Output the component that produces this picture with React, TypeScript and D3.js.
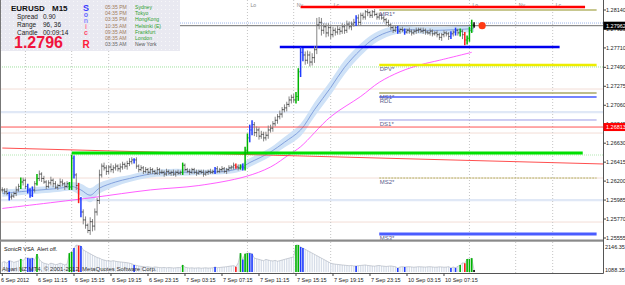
import React from "react";
import * as d3 from "d3";

const W = 625;
const H = 285;
const BASE = 1.25; // bar values below are pips above 1.2500

// EURUSD M15 closes, one per bar (6 Sep 07:30 .. 10 Sep 10:30)
const closes = [
  110, 108, 106, 102, 103, 106, 110, 114, 119, 121,
  114, 110, 104, 110, 117, 123, 128, 123, 119, 114,
  118, 121, 117, 113, 115, 119, 117, 114, 117, 113,
  146, 127, 115, 100, 85, 76, 70, 64, 74, 69,
  85, 98, 127, 137, 135, 131, 136, 133, 135, 137,
  134, 136, 139, 137, 140, 142, 144, 144, 137, 133,
  135, 131, 133, 130, 133, 131, 129, 133, 130, 130,
  128, 131, 129, 130, 128, 130, 129, 130, 138, 133,
  131, 130, 133, 130, 129, 131, 130, 128, 130, 131,
  130, 131, 134, 131, 133, 134, 131, 133, 135, 136,
  138, 136, 135, 137, 135, 155, 169, 178, 184, 175,
  178, 171, 173, 169, 172, 178, 180, 185, 189, 193,
  196, 201, 203, 207, 212, 215, 212, 216, 244, 266,
  263, 257, 263, 255, 260, 269, 297, 300, 291, 295,
  288, 294, 286, 291, 289, 292, 290, 295, 291, 298,
  295, 298, 300, 305, 300, 308, 306, 312, 311, 308,
  312, 309, 306, 308, 305, 303, 300, 297, 294, 291,
  294, 290, 292, 291, 289, 291, 290, 288, 290, 291,
  292, 290, 291, 289, 288, 290, 287, 288, 286, 283,
  286, 288, 287, 284, 287, 289, 291, 288, 290, 286,
  280, 282, 291, 297, 296,
];
const upWick = [
  3, 2, 4, 2, 3, 2, 4, 3, 5, 3, 2, 3, 2, 4, 3, 5, 4, 2, 3, 2,
  3, 4, 2, 3, 2, 4, 3, 2, 3, 2, 4, 3, 2, 3, 2, 3, 4, 2, 5, 3,
  4, 3, 6, 3, 4, 3, 2, 4, 3, 3, 2, 4, 3, 2, 3, 4, 3, 2, 3, 2,
  3, 2, 3, 2, 3, 2, 2, 3, 2, 3, 2, 3, 2, 2, 3, 2, 3, 2, 3, 2,
  2, 3, 2, 2, 3, 2, 2, 3, 2, 2, 3, 2, 2, 3, 2, 3, 2, 2, 3, 2,
  3, 2, 3, 2, 3, 4, 5, 6, 5, 3, 4, 3, 4, 3, 4, 5, 4, 3, 4, 3,
  4, 3, 4, 3, 4, 3, 4, 5, 4, 6, 5, 4, 5, 4, 5, 4, 8, 6, 5, 4,
  4, 5, 3, 4, 3, 4, 3, 4, 3, 4, 3, 3, 4, 3, 4, 3, 3, 2, 3, 2,
  2, 3, 2, 3, 2, 3, 2, 3, 2, 2, 3, 2, 2, 3, 2, 2, 3, 2, 2, 3,
  2, 2, 3, 2, 2, 3, 2, 2, 3, 2, 2, 3, 2, 2, 3, 2, 3, 2, 3, 2,
  3, 3, 4, 6, 3,
];
const dnWick = [
  3, 3, 2, 4, 3, 2, 3, 2, 3, 4, 3, 4, 3, 2, 3, 2, 3, 4, 2, 3,
  2, 3, 4, 2, 3, 2, 3, 4, 2, 3, 3, 4, 5, 5, 6, 5, 4, 3, 5, 6,
  5, 4, 4, 3, 3, 4, 3, 3, 4, 3, 3, 4, 3, 3, 4, 3, 3, 4, 3, 3,
  2, 3, 2, 3, 2, 3, 2, 2, 3, 2, 3, 2, 2, 3, 2, 3, 2, 2, 3, 2,
  2, 3, 2, 2, 3, 2, 2, 3, 2, 3, 2, 2, 3, 2, 2, 3, 2, 3, 2, 2,
  3, 2, 3, 2, 3, 3, 4, 5, 6, 4, 5, 4, 3, 4, 3, 4, 3, 4, 3, 4,
  3, 4, 3, 4, 3, 4, 3, 4, 5, 6, 7, 5, 4, 5, 4, 6, 5, 5, 6, 4,
  5, 4, 5, 3, 4, 3, 4, 3, 4, 3, 3, 4, 3, 4, 3, 4, 3, 3, 4, 3,
  3, 2, 3, 3, 2, 3, 3, 2, 3, 3, 2, 3, 3, 2, 3, 2, 3, 3, 2, 3,
  3, 2, 3, 3, 2, 3, 3, 2, 3, 3, 4, 3, 3, 4, 3, 3, 4, 3, 4, 5,
  6, 5, 4, 3, 2,
];
const volumes = [
  780, 820, 700, 900, 850, 760, 820, 880, 1030, 900,
  1100, 1120, 1080, 1110, 950, 1430, 1000, 800, 700, 650,
  600, 700, 650, 580, 620, 700, 640, 560, 620, 1500,
  1600, 1900, 2146, 2100, 2070, 1750, 1650, 1550, 1450, 1350,
  1250, 1150, 1100, 1000, 950, 900, 880, 860, 900, 850,
  820, 800, 780, 760, 740, 700, 650, 560, 520, 480,
  450, 430, 400, 420, 380, 360, 400, 380, 350, 340,
  360, 330, 350, 340, 320, 330, 350, 340, 560, 380,
  340, 320, 330, 310, 320, 330, 300, 320, 330, 310,
  320, 330, 400, 340, 360, 380, 400, 420, 450, 480,
  500, 420, 700, 1500, 1000, 1450, 1500, 1500, 1450, 1100,
  1050, 1000, 950, 900, 1000, 950, 900, 880, 920, 850,
  900, 950, 1000, 1050, 1100, 1150, 1200, 2146, 2146, 1990,
  1900, 1800, 1700, 1600, 1500, 1400, 1300, 1200, 1100, 1000,
  900, 800, 700, 650, 620, 600, 580, 560, 540, 520,
  500, 520, 480, 480, 500, 520, 540, 560, 520, 500,
  480, 460, 500, 520, 480, 460, 440, 460, 480, 450,
  420, 320, 400, 420, 400, 410, 420, 400, 380, 400,
  420, 410, 400, 390, 410, 420, 400, 380, 390, 410,
  400, 380, 390, 420, 320, 400, 330, 450, 560, 720,
  700, 1030, 1030, 1100, 160,
];
const greenBars = [8, 15, 29, 30, 78, 103, 105, 106, 127, 128, 198, 201, 202, 203];
const blueBars = [3, 11, 12, 13, 31, 34, 57, 92, 104, 107, 108, 129, 130, 153, 171, 174, 194, 196];
const redBars = [33, 101, 200];
const blackBars = [204];

// SonicR dragon (EMA34 high / low) and EMA89, read at knots
const dragonIdx = [0, 12, 25, 30, 34, 38, 42, 49, 55, 64, 75, 85, 96, 103, 107, 111, 116, 122, 129, 135, 142, 148, 155, 161, 168, 174, 181, 189, 198, 204];
const dragonMid = [106, 109, 112, 114, 110, 104, 112, 119, 123, 128, 130, 130, 131, 135, 141, 146, 153, 164, 178, 201, 226, 249, 269, 282, 290, 292, 291, 291, 292, 293];
const dragonHi = [110, 113, 116, 119, 117, 112, 118, 124, 127, 132, 134, 133, 134, 139, 146, 151, 158, 170, 185, 209, 234, 257, 276, 288, 295, 296, 295, 295, 296, 297];
const dragonLo = [102, 105, 108, 109, 103, 96, 106, 114, 119, 124, 126, 127, 128, 131, 136, 141, 148, 158, 171, 193, 218, 241, 262, 276, 285, 288, 287, 287, 288, 289];
const slowIdx = [0, 38, 64, 85, 105, 116, 124, 129, 142, 155, 163, 172, 181, 189, 203];
const slowMA = [89, 101, 110, 115, 125, 136, 150, 159, 193, 216, 232, 244, 252, 257, 266];

const priceTicks = ["1.28140", "1.27925", "1.27710", "1.27490", "1.27275", "1.27060", "1.26845", "1.26630", "1.26415", "1.26200", "1.25985", "1.25770", "1.25555"];
const timeTicks = [0, 15, 31, 47, 63, 79, 95, 111, 127, 143, 159, 175, 191];
const timeLabels = ["6 Sep 2012", "6 Sep 11:15", "6 Sep 15:15", "6 Sep 19:15", "6 Sep 23:15", "7 Sep 03:15", "7 Sep 07:15", "7 Sep 11:15", "7 Sep 15:15", "7 Sep 19:15", "7 Sep 23:15", "10 Sep 03:15", "10 Sep 07:15"];
const sessionIdx = [10, 30, 46, 106, 126, 142, 202, 222, 238];
const sessionNames = ["Lo", "Ny", "Lc", "Lo", "Ny", "Lc", "Lo", "Ny", "Lc"];

const pivotNames = ["MR1*", "DPV*", "MS1*", "RDL", "DS1*", "MS2*", "MS3*"];
const pivotPrices = [1.2814, 1.27516, 1.27199, 1.27153, 1.26893, 1.26235, 1.256];
const pivotFrom = 163;
const pivotTo = 257;

const levelPrices = [1.28174, 1.2772, 1.26518];
const levelFrom = [129, 120, 30];
const levelTo = [252, 241, 251];
const trendPrices = [1.26575, 1.26394];
const palePrices = [1.27993, 1.27494, 1.27244, 1.26983, 1.26745, 1.26496, 1.26235, 1.25985, 1.25736];
const alertPrice = 1.26813;
const bidPrice = 1.27962;

const cityNames = ["Sydney", "Tokyo", "HongKong", "Helsinki  (E)", "Frankfurt", "London", "New York"];
const cityTimes = ["05:35 PM", "04:35 PM", "03:35 PM", "10:35 AM", "09:35 AM", "08:35 AM", "03:35 AM"];

// styles
const pivotColors = ["#b4b46a", "#eded00", "#a8a866", "#7484ff", "#9a9ae6", "#b0b060", "#4a5cff"];
const pivotWidths = [1.3, 2.4, 1.3, 2, 1, 1, 3];
const levelColors = ["#ff0000", "#0000ee", "#00e000"];
const paleColors = ["#b8ccf2", "#9fe09f", "#f3ddd6", "#e0e8f6", "#f3ddd6", "#b3e8b3", "#f3ddd6", "#e0e8f6", "#f3ddd6"];
const paleWidths = [1, 1, 1, 2.2, 1, 1, 1, 2.2, 1];
const sonic = [["S", "#3a3aff", 9], ["o", "#6a6aff", 7], ["n", "#8c8cff", 7], ["i", "#ff7a9a", 7], ["c", "#ff4a6a", 7], ["R", "#ff1a3a", 10]] as const;

const FONT = "'Liberation Sans', Arial, sans-serif";
const PANEL_W = 180;
const pr = (p: number) => BASE + p / 10000;

export default function App() {
  const x = d3.scaleLinear().domain([0, 260]).range([2.3, 2.3 + 260 * 2.3125]);
  const y = d3.scaleLinear().domain([1.25555, 1.2814]).range([238, 10]);
  const vy = d3.scaleLinear().domain([0, 2146.35]).range([272, 245]);
  const right = 603.5;

  const colorOf = (i: number) =>
    greenBars.includes(i) ? "#00b400" : blueBars.includes(i) ? "#1f3cff" : redBars.includes(i) ? "#ff1a1a" : blackBars.includes(i) ? "#000" : null;

  const band = d3.area<number>()
    .x((_, k) => x(dragonIdx[k]))
    .y0((_, k) => y(pr(dragonLo[k])))
    .y1((_, k) => y(pr(dragonHi[k])))
    .curve(d3.curveCatmullRom);
  const dragonLine = d3.line<number>()
    .x((_, k) => x(dragonIdx[k]))
    .y((v) => y(pr(v)))
    .curve(d3.curveCatmullRom);
  const slowLine = d3.line<number>()
    .x((_, k) => x(slowIdx[k]))
    .y((v) => y(pr(v)))
    .curve(d3.curveCatmullRom);
  const volLine = d3.line<number>().x((_, i) => x(i)).y((v) => vy(v));

  return (
    <svg width={W} height={H} style={{ position: "absolute", left: 0, top: 0, fontFamily: FONT }}>
      <defs>
        <pattern id="dots" width="4" height="4" patternUnits="userSpaceOnUse">
          <rect width="4" height="4" fill="#e9e9f1" />
          <rect x="1" y="1" width="0.8" height="0.8" fill="#ffffff" />
        </pattern>
        <clipPath id="main">
          <rect x={0} y={0} width={right} height={240} />
        </clipPath>
      </defs>
      <rect width={W} height={H} fill="#fff" />

      <g clipPath="url(#main)">
        {palePrices.map((p, k) => (
          <line key={"p" + k} x1={0} x2={right} y1={y(p)} y2={y(p)} stroke={paleColors[k]} strokeWidth={paleWidths[k]}
            strokeDasharray={k === 0 || k === 1 || k === 5 ? "1,1" : undefined} />
        ))}
        {sessionIdx.map((s, k) => (
          <g key={"s" + k}>
            <line x1={x(s)} x2={x(s)} y1={0} y2={240} stroke="#c4c4c4" strokeDasharray="1,2" />
            {x(s) > PANEL_W && <text x={x(s) + 3} y={6.5} fontSize={5.2} fill="#8a8a8a">{sessionNames[k]}</text>}
          </g>
        ))}
        <path d={band(dragonMid) || ""} fill="#cfe2f7" />
        <path d={dragonLine(dragonMid) || ""} fill="none" stroke="#6f8fd6" strokeWidth={0.8} />
        <path d={slowLine(slowMA) || ""} fill="none" stroke="#ff4cff" strokeWidth={0.9} />

        <line x1={x(0)} x2={x(260)} y1={y(trendPrices[0])} y2={y(trendPrices[1])} stroke="#ff3b3b" strokeWidth={0.9} />
        <line x1={0} x2={right} y1={y(alertPrice)} y2={y(alertPrice)} stroke="#ff4040" strokeWidth={0.9} />
        {levelPrices.map((p, k) => (
          <line key={"l" + k} x1={x(levelFrom[k])} x2={x(levelTo[k])} y1={y(p)} y2={y(p)} stroke={levelColors[k]} strokeWidth={k === 2 ? 3 : 2.4} />
        ))}
        {pivotPrices.map((p, k) => (
          <line key={"v" + k} x1={x(pivotFrom)} x2={x(pivotTo)} y1={y(p)} y2={y(p)} stroke={pivotColors[k]} strokeWidth={pivotWidths[k]}
            strokeDasharray={k === 5 ? "2,1" : undefined} />
        ))}
        <line x1={0} x2={right} y1={y(bidPrice) - 2.5} y2={y(bidPrice) - 2.5} stroke="#c2d0f0" strokeDasharray="1,1" />
        <line x1={0} x2={right} y1={y(bidPrice)} y2={y(bidPrice)} stroke="#4a4a4a" strokeWidth={0.8} />

        {closes.map((c, i) => {
          const o = i === 0 ? c : closes[i - 1];
          const hi = Math.max(o, c) + upWick[i];
          const lo = Math.min(o, c) - dnWick[i];
          const cx = x(i);
          const col = colorOf(i);
          return (
            <g key={"b" + i}>
              <line x1={cx} x2={cx} y1={y(pr(hi))} y2={y(pr(lo))} stroke={col || "#858585"} strokeWidth={col ? 1.5 : 1} />
              <line x1={cx - 1.1} x2={cx} y1={y(pr(o))} y2={y(pr(o))} stroke={col || "#222"} strokeWidth={0.8} />
              <line x1={cx} x2={cx + 1.1} y1={y(pr(c))} y2={y(pr(c))} stroke={col || "#222"} strokeWidth={0.8} />
            </g>
          );
        })}

        {pivotPrices.map((p, k) => (
          <text key={"n" + k} x={x(pivotFrom) + 0.5} y={y(p) + 6} fontSize={6} fill="#5c5c8c">{pivotNames[k]}</text>
        ))}
        <circle cx={x(207.5)} cy={y(bidPrice)} r={3.6} fill="#ff3a14" />
      </g>

      {/* info panel */}
      <rect x={0} y={0} width={PANEL_W} height={51} fill="url(#dots)" />
      <text x={11} y={10.5} fontSize={8} fontWeight="bold" fill="#111">EURUSD</text>
      <text x={52} y={10.5} fontSize={8} fontWeight="bold" fill="#111">M15</text>
      <text x={17} y={19} fontSize={6.5} fill="#222">Spread</text>
      <text x={43} y={19} fontSize={6.5} fill="#222">0.90</text>
      <text x={17} y={27} fontSize={6.5} fill="#222">Range</text>
      <text x={43} y={27} fontSize={6.5} fill="#222">96, 36</text>
      <text x={17} y={35} fontSize={6.5} fill="#222">Candle</text>
      <text x={43} y={35} fontSize={6.5} fill="#222">00:09:14</text>
      <text x={14} y={47.5} fontSize={16} fontWeight="bold" fill="#f0143c">1.2796</text>
      {sonic.map(([ch, col, fs], k) => (
        <text key={"c" + k} x={86} y={[10.5, 17, 23, 29, 35, 47.5][k]} fontSize={fs} fontWeight="bold" fill={col} textAnchor="middle">{ch}</text>
      ))}
      {cityNames.map((c, k) => (
        <g key={"t" + k}>
          <text x={105} y={9 + k * 6.2} fontSize={5.1} fill={k === 6 ? "#6a6a6a" : "#a07c5c"}>{cityTimes[k]}</text>
          <text x={135} y={9 + k * 6.2} fontSize={5.1} fill={k === 6 ? "#555" : "#2f9f2f"}>{c}</text>
        </g>
      ))}

      {/* sub window */}
      {sessionIdx.map((s, k) => (
        <line key={"ss" + k} x1={x(s)} x2={x(s)} y1={242} y2={273} stroke="#c4c4c4" strokeDasharray="1,2" />
      ))}
      {volumes.map((v, i) => (
        <line key={"vb" + i} x1={x(i)} x2={x(i)} y1={vy(v)} y2={272} stroke="#d6dde8" strokeWidth={1.3} />
      ))}
      <path d={volLine(volumes) || ""} fill="none" stroke="#a8aebb" strokeWidth={0.6} />
      {volumes.map((v, i) => {
        const col = colorOf(i);
        return col ? <line key={"vc" + i} x1={x(i)} x2={x(i)} y1={vy(v)} y2={272} stroke={col} strokeWidth={1.6} /> : null;
      })}
      <text x={4} y={251} fontSize={5.5} fill="#111">SonicR VSA</text>
      <text x={37} y={251} fontSize={5.5} fill="#111">Alert off.</text>
      <text x={2} y={271} fontSize={6} fill="#333">Alpari NZ MT4, © 2001-2012, MetaQuotes Software Corp.</text>

      {/* frame */}
      <line x1={0.5} x2={0.5} y1={0} y2={273.5} stroke="#777" />
      <rect x={0} y={239.5} width={right} height={2.2} fill="#8a8a8a" />
      <line x1={0} x2={right} y1={273.5} y2={273.5} stroke="#555" />
      <line x1={right} x2={right} y1={0} y2={273.5} stroke="#555" />

      {/* price axis */}
      {priceTicks.map((t, k) => (
        <g key={"pt" + k}>
          <line x1={right} x2={right + 2.5} y1={y(+t)} y2={y(+t)} stroke="#444" />
          <text x={606} y={y(+t) + 2} fontSize={5.5} fill="#222">{t}</text>
        </g>
      ))}
      <rect x={right} y={y(bidPrice) - 4} width={22} height={8} fill="#000" />
      <text x={606} y={y(bidPrice) + 2} fontSize={5.5} fill="#fff">1.27962</text>
      <rect x={right} y={y(alertPrice) - 4} width={22} height={8} fill="#ff0000" />
      <text x={606} y={y(alertPrice) + 2} fontSize={5.5} fill="#fff">1.26813</text>
      <text x={605} y={248.5} fontSize={5.5} fill="#222">2146.35</text>
      <text x={605} y={272} fontSize={5.5} fill="#222">1088.35</text>

      {/* time axis */}
      {timeTicks.map((t, k) => (
        <g key={"tt" + k}>
          <line x1={x(t)} x2={x(t)} y1={273.5} y2={276} stroke="#444" />
          <text x={k === 0 ? 1 : x(t) + 1} y={282} fontSize={5.5} fill="#222">{timeLabels[k]}</text>
        </g>
      ))}
    </svg>
  );
}
